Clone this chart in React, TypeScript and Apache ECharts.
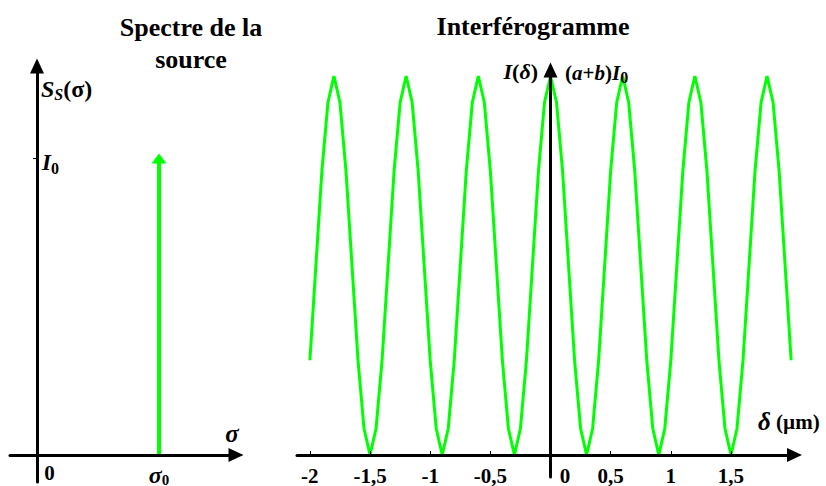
import React, { useEffect, useRef } from "react";
import * as echarts from "echarts";

// ---- Data ----
// Spectre de la source: a single line at sigma0 with height I0
const spectrumSigma = [1]; // σ0 (in units of σ0)
const spectrumLevel = [1]; // I0 (in units of I0)
const spectrumTickValues = [0, 1];

// Interférogramme: I(δ)/((a+b)I0) sampled every 0.05 µm
const deltaValues = [
  -2, -1.95, -1.9, -1.85, -1.8, -1.75, -1.7, -1.65, -1.6, -1.55,
  -1.5, -1.45, -1.4, -1.35, -1.3, -1.25, -1.2, -1.15, -1.1, -1.05,
  -1, -0.95, -0.9, -0.85, -0.8, -0.75, -0.7, -0.65, -0.6, -0.55,
  -0.5, -0.45, -0.4, -0.35, -0.3, -0.25, -0.2, -0.15, -0.1, -0.05,
  0, 0.05, 0.1, 0.15, 0.2, 0.25, 0.3, 0.35, 0.4, 0.45,
  0.5, 0.55, 0.6, 0.65, 0.7, 0.75, 0.8, 0.85, 0.9, 0.95,
  1, 1.05, 1.1, 1.15, 1.2, 1.25, 1.3, 1.35, 1.4, 1.45,
  1.5, 1.55, 1.6, 1.65, 1.7, 1.75, 1.8, 1.85, 1.9, 1.95,
  2,
];
const intensityValues = [
  0.25, 0.5, 0.75, 0.93, 1, 0.93, 0.75, 0.5, 0.25, 0.07,
  0, 0.07, 0.25, 0.5, 0.75, 0.93, 1, 0.93, 0.75, 0.5,
  0.25, 0.07, 0, 0.07, 0.25, 0.5, 0.75, 0.93, 1, 0.93,
  0.75, 0.5, 0.25, 0.07, 0, 0.07, 0.25, 0.5, 0.75, 0.93,
  1, 0.93, 0.75, 0.5, 0.25, 0.07, 0, 0.07, 0.25, 0.5,
  0.75, 0.93, 1, 0.93, 0.75, 0.5, 0.25, 0.07, 0, 0.07,
  0.25, 0.5, 0.75, 0.93, 1, 0.93, 0.75, 0.5, 0.25, 0.07,
  0, 0.07, 0.25, 0.5, 0.75, 0.93, 1, 0.93, 0.75, 0.5,
  0.25,
];
const deltaTickValues = [-2, -1.5, -1, -0.5, 0, 0.5, 1, 1.5];

const SERIF = '"Liberation Serif", "Times New Roman", serif';
const GREEN = "#00ff00";

export default function App() {
  const ref = useRef<HTMLDivElement>(null);

  useEffect(() => {
    if (!ref.current) return;
    const chart = echarts.init(ref.current, undefined, { renderer: "svg" });

    const spectrumData: number[][] = [];
    spectrumSigma.forEach((s, i) => {
      spectrumData.push([s, 0]);
      spectrumData.push([s, spectrumLevel[i]]);
    });
    const interData = deltaValues.map((d, i) => [d, intensityValues[i]]);

    const base = { fontFamily: SERIF, fontWeight: "bold" as const, color: "#000" };

    const axisLine = {
      onZero: true,
      symbol: ["none", "triangle"],
      symbolSize: [14, 15],
      lineStyle: { color: "#000", width: 3 },
    };

    const option: any = {
      animation: false,
      backgroundColor: "#fff",
      grid: [
        { left: 10, top: 66, width: 226, height: 416, outerBoundsMode: "none", containLabel: false },
        { left: 297, top: 70, width: 497.5, height: 407, outerBoundsMode: "none", containLabel: false },
      ],
      xAxis: [
        {
          gridIndex: 0,
          type: "value",
          min: -0.2213,
          max: 1.631,
          z: 5,
          axisLine,
          splitLine: { show: false },
          axisTick: { show: false },
          axisLabel: {
            customValues: spectrumTickValues,
            margin: -20,
            formatter: (v: number) => (v === 0 ? "{z|0}" : "{s|σ}{sub|0}"),
            rich: {
              z: { ...base, fontSize: 21, padding: [0, 0, 0, 25] },
              s: { ...base, fontSize: 24, fontStyle: "italic" },
              sub: { ...base, fontSize: 15, padding: [10, 0, 0, 0] },
            },
          },
        },
        {
          gridIndex: 1,
          type: "value",
          min: -2.107,
          max: 2.028,
          z: 5,
          axisLine,
          splitLine: { show: false },
          axisTick: {
            customValues: deltaTickValues,
            inside: true,
            length: 4,
            lineStyle: { color: "#000", width: 1 },
          },
          axisLabel: {
            customValues: deltaTickValues,
            margin: -12,
            formatter: (v: number) =>
              v === 0 ? "{z|0}" : "{n|" + String(v).replace(".", ",") + "}",
            rich: {
              n: { ...base, fontSize: 21 },
              z: { ...base, fontSize: 21, padding: [0, 0, 0, 29] },
            },
          },
        },
      ],
      yAxis: [
        {
          gridIndex: 0,
          type: "value",
          position: "right",
          min: -0.091,
          max: 1.312,
          z: 5,
          axisLine,
          splitLine: { show: false },
          axisTick: {
            customValues: spectrumLevel,
            inside: true,
            length: 4,
            lineStyle: { color: "#000", width: 1 },
          },
          axisLabel: {
            customValues: spectrumLevel,
            margin: -194,
            formatter: () => "{i|I}{sub|0}",
            rich: {
              i: { ...base, fontSize: 23, fontStyle: "italic", padding: [8, 0, 0, 0] },
              sub: { ...base, fontSize: 16, padding: [20, 0, 0, 0] },
            },
          },
        },
        {
          gridIndex: 1,
          type: "value",
          min: -0.058,
          max: 1.0158,
          z: 5,
          axisLine,
          splitLine: { show: false },
          axisTick: { show: false },
          axisLabel: { show: false },
        },
      ],
      series: [
        {
          type: "line",
          xAxisIndex: 0,
          yAxisIndex: 0,
          data: spectrumData,
          z: 2,
          showSymbol: true,
          symbol: (_v: any, p: any) => (p.dataIndex % 2 === 1 ? "triangle" : "none"),
          symbolSize: [15, 10],
          itemStyle: { color: GREEN },
          lineStyle: { color: GREEN, width: 4 },
          silent: true,
        },
        {
          type: "line",
          xAxisIndex: 1,
          yAxisIndex: 1,
          data: interData,
          z: 2,
          showSymbol: false,
          symbol: "none",
          lineStyle: { color: GREEN, width: 3 },
          silent: true,
        },
      ],
      graphic: [
        {
          type: "text",
          x: 191,
          y: 11,
          z: 10,
          style: {
            text: "Spectre de la\nsource",
            align: "center",
            verticalAlign: "top",
            fontFamily: SERIF,
            fontWeight: "bold",
            fontSize: 26,
            lineHeight: 32,
            fill: "#000",
          },
        },
        {
          type: "text",
          x: 533,
          y: 11,
          z: 10,
          style: {
            text: "Interférogramme",
            align: "center",
            verticalAlign: "top",
            fontFamily: SERIF,
            fontWeight: "bold",
            fontSize: 26,
            lineHeight: 30,
            fill: "#000",
          },
        },
        {
          type: "text",
          x: 41,
          y: 75,
          z: 10,
          style: {
            text: "{i|S}{sub|S}{n|(σ)}",
            align: "left",
            verticalAlign: "top",
            fill: "#000",
            rich: {
              i: { fontFamily: SERIF, fontWeight: "bold", fontStyle: "italic", fontSize: 24 },
              sub: { fontFamily: SERIF, fontWeight: "bold", fontStyle: "italic", fontSize: 16, padding: [11, 0, 0, 0] },
              n: { fontFamily: SERIF, fontWeight: "bold", fontSize: 24 },
            },
          },
        },
        {
          type: "text",
          x: 232,
          y: 433,
          z: 10,
          style: {
            text: "σ",
            align: "center",
            verticalAlign: "middle",
            fontFamily: SERIF,
            fontWeight: "bold",
            fontStyle: "italic",
            fontSize: 25,
            fill: "#000",
          },
        },
        {
          type: "text",
          x: 538,
          y: 60,
          z: 10,
          style: {
            text: "{i|I}{n|(}{i|δ}{n|)}",
            align: "right",
            verticalAlign: "top",
            fill: "#000",
            rich: {
              i: { fontFamily: SERIF, fontWeight: "bold", fontStyle: "italic", fontSize: 22 },
              n: { fontFamily: SERIF, fontWeight: "bold", fontSize: 22 },
            },
          },
        },
        {
          type: "text",
          x: 565,
          y: 60,
          z: 10,
          style: {
            text: "{n|(}{i|a}{n|+}{i|b}{n|)}{i|I}{sub|0}",
            align: "left",
            verticalAlign: "top",
            fill: "#000",
            rich: {
              i: { fontFamily: SERIF, fontWeight: "bold", fontStyle: "italic", fontSize: 21 },
              n: { fontFamily: SERIF, fontWeight: "bold", fontSize: 21 },
              sub: { fontFamily: SERIF, fontWeight: "bold", fontSize: 16, padding: [9, 0, 0, 0] },
            },
          },
        },
        {
          type: "text",
          x: 758,
          y: 409,
          z: 10,
          style: {
            text: "{i|δ}{n| (µm)}",
            align: "left",
            verticalAlign: "top",
            fill: "#000",
            rich: {
              i: { fontFamily: SERIF, fontWeight: "bold", fontStyle: "italic", fontSize: 25 },
              n: { fontFamily: SERIF, fontWeight: "bold", fontSize: 21 },
            },
          },
        },
      ],
    };

    chart.setOption(option);
    return () => chart.dispose();
  }, []);

  return <div ref={ref} style={{ width: 826, height: 486, position: "absolute", left: 0, top: 0 }} />;
}
